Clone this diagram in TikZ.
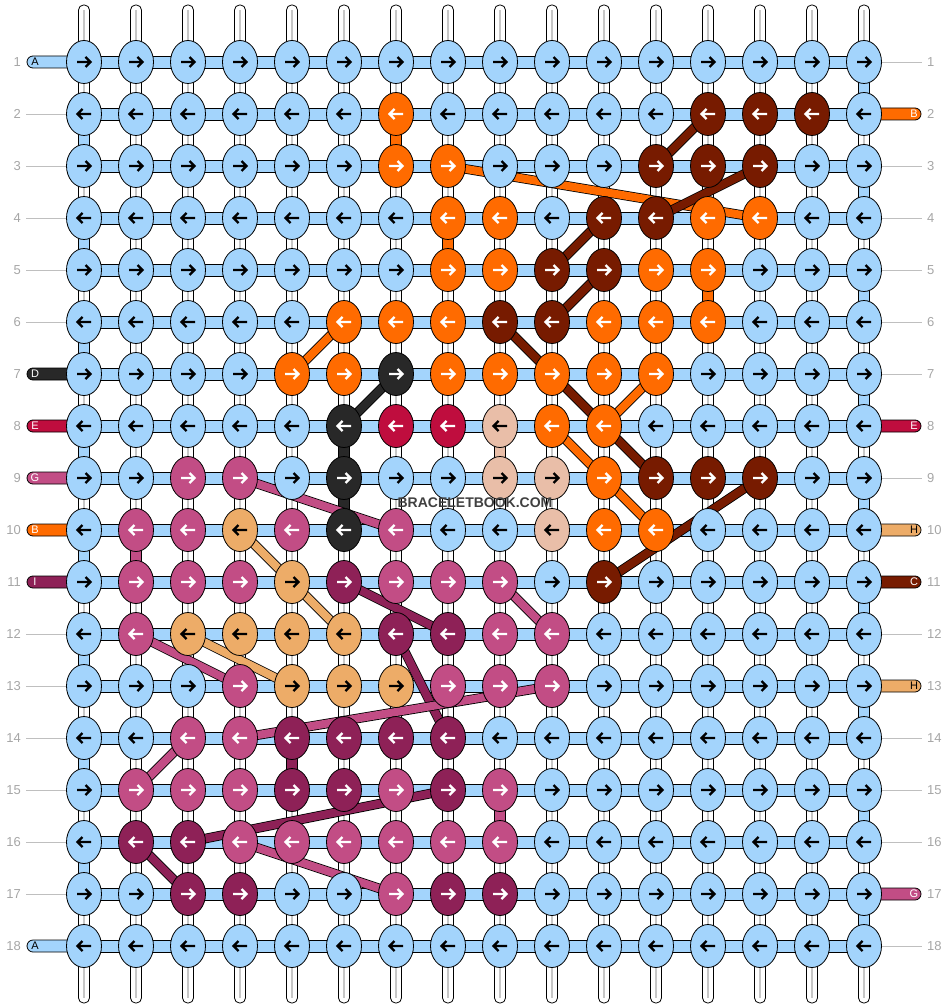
\documentclass[tikz,border=0pt]{standalone}
\usepackage{fontspec}
\setmainfont{Liberation Sans}
\usetikzlibrary{
    arrows.meta,
    positioning,
    calc,
    backgrounds,
    shapes.geometric
}
% Thread colours
\definecolor{kL}{HTML}{A3D4FC}
\definecolor{kO}{HTML}{FF6B00}
\definecolor{kD}{HTML}{771B00}
\definecolor{kK}{HTML}{282828}
\definecolor{kR}{HTML}{BF0D3E}
\definecolor{kP}{HTML}{E9BEA8}
\definecolor{kM}{HTML}{C24D85}
\definecolor{kT}{HTML}{EDAC68}
\definecolor{kW}{HTML}{8E2157}
% Arrow colour on each thread
\colorlet{aL}{black}
\colorlet{aO}{white}
\colorlet{aD}{white}
\colorlet{aK}{white}
\colorlet{aR}{white}
\colorlet{aP}{black}
\colorlet{aM}{white}
\colorlet{aT}{black}
\colorlet{aW}{white}
\tikzset{
    % Strands
    warp/.style={fill=white,draw=black,line width=.8,rounded corners=5},
    warp mid/.style={draw=black!22,line width=1.6},
    weft/.style={fill=kL,draw=black,line width=.8},
    vseg/.style={fill=k#1,draw=black,line width=.8},
    carry/.style={draw=black,double=k#1,double distance=8,line width=.8},
    %
    % Knots
    knot/.style={ellipse,draw=black,line width=.8,fill=k#1,minimum width=35,minimum height=43,inner sep=0pt},
    knot arrow/.style={draw=a#1,line width=2.4},
    %
    % Labels
    row number/.style={text=black!35,font=\fontsize{13}{13}\selectfont,inner sep=0pt},
    row guide/.style={draw=black!25,line width=.8},
    tail/.style={fill=k#1,draw=black,line width=.8,rounded corners=6},
    tail letter/.style={text=a#1,font=\fontsize{11}{11}\selectfont,inner sep=0pt},
}

\begin{document}
\begin{tikzpicture}[x=1pt,y=-1pt]
    \useasboundingbox (0,0) rectangle (948,1008);
    % knots, row by row
    \foreach \row [count=\i] in {%
        {L,L,L,L,L,L,L,L,L,L,L,L,L,L,L,L},%
        {L,L,L,L,L,L,O,L,L,L,L,L,D,D,D,L},%
        {L,L,L,L,L,L,O,O,L,L,L,D,D,D,L,L},%
        {L,L,L,L,L,L,L,O,O,L,D,D,O,O,L,L},%
        {L,L,L,L,L,L,L,O,O,D,D,O,O,L,L,L},%
        {L,L,L,L,L,O,O,O,D,D,O,O,O,L,L,L},%
        {L,L,L,L,O,O,K,O,O,O,O,O,L,L,L,L},%
        {L,L,L,L,L,K,R,R,P,O,O,L,L,L,L,L},%
        {L,L,M,M,L,K,L,L,P,P,O,D,D,D,L,L},%
        {L,M,M,T,M,K,M,L,L,P,O,O,L,L,L,L},%
        {L,M,M,M,T,W,M,M,M,L,D,L,L,L,L,L},%
        {L,M,T,T,T,T,W,W,M,M,L,L,L,L,L,L},%
        {L,L,L,M,T,T,T,M,M,M,L,L,L,L,L,L},%
        {L,L,M,M,W,W,W,W,L,L,L,L,L,L,L,L},%
        {L,M,M,M,W,W,M,W,M,L,L,L,L,L,L,L},%
        {L,W,W,M,M,M,M,M,M,L,L,L,L,L,L,L},%
        {L,L,W,W,L,L,M,W,W,L,L,L,L,L,L,L},%
        {L,L,L,L,L,L,L,L,L,L,L,L,L,L,L,L}%
    }{
        \ifodd\i\relax \def\dir{1}\else \def\dir{-1}\fi
        \foreach \kc [count=\j] in \row {
            \node[knot=\kc] (k\i-\j) at ({84+52*(\j-1)},{62+52*(\i-1)}) {};
            \draw[knot arrow=\kc,shift={(k\i-\j.center)},xscale=\dir] (-7,0) -- (5.5,0) (1.5,-5) -- (6.5,0) -- (1.5,5);
        }
    }
    \begin{scope}[on background layer]
        % warp threads
        \foreach \j in {1,...,16} {
            \draw[warp] ([shift={(-5.5,-57)}]k1-\j.center) rectangle ([shift={(5.5,57)}]k18-\j.center);
            \draw[warp mid] ([yshift=52]k1-\j.center) -- ([yshift=-52]k18-\j.center);
        }
        % weft rows and turns at the edges
        \foreach \i in {1,...,18}
            \draw[weft] ([yshift=6]k\i-1.center) rectangle ([yshift=-6]k\i-16.center);
        \foreach \i [evaluate=\i as \n using int(\i+1)] in {1,3,...,17}
            \draw[vseg=L] ([xshift=-5.5]k\i-16.center) rectangle ([xshift=5.5]k\n-16.center);
        \foreach \i [evaluate=\i as \n using int(\i+1)] in {2,4,...,16}
            \draw[vseg=L] ([xshift=-5.5]k\i-1.center) rectangle ([xshift=5.5]k\n-1.center);
        % coloured threads going straight down
        \foreach \i/\j/\kc [evaluate=\i as \n using int(\i+1)] in {2/7/O,4/8/O,5/13/O,8/6/K,9/6/K,8/9/P,10/2/M,14/5/W,15/9/M}
            \draw[vseg=\kc] ([xshift=-5.5]k\i-\j.center) rectangle ([xshift=5.5]k\n-\j.center);
        % guide lines
        \foreach \i in {2,3,4,5,6,12,13,14,15,16,17}
            \draw[row guide] ([xshift=-58]k\i-1.center) -- (k\i-1.center);
        \foreach \i in {1,3,4,5,6,7,9,12,14,15,16,18}
            \draw[row guide] (k\i-16.center) -- ([xshift=58]k\i-16.center);
        % loose ends
        \foreach \i/\kc/\lab in {1/L/A,7/K/D,8/R/E,9/M/G,10/O/B,11/W/I,18/L/A} {
            \draw[tail=\kc] ([shift={(-57,-6)}]k\i-1.center) rectangle ([shift={(0,6)}]k\i-1.center);
            \node[tail letter=\kc] (tl\i) at ([xshift=-49]k\i-1.center) {\lab};
        }
        \foreach \i/\kc/\lab in {2/O/B,8/R/E,10/T/H,11/D/C,13/T/H,17/M/G} {
            \draw[tail=\kc] ([shift={(0,-6)}]k\i-16.center) rectangle ([shift={(57,6)}]k\i-16.center);
            \node[tail letter=\kc] (tr\i) at ([xshift=50]k\i-16.center) {\lab};
        }
        % threads carried across
        \foreach \a/\b/\kc in {3-8/4-14/O,6-6/7-5/O,7-12/8-11/O,8-10/9-11/O,9-11/10-12/O,
                2-13/3-12/D,3-14/4-12/D,4-11/5-10/D,5-11/6-10/D,6-9/9-12/D,9-14/11-11/D,
                7-7/8-6/K,
                10-4/11-5/T,11-5/12-6/T,12-3/13-5/T,
                11-6/12-8/W,12-7/14-8/W,15-8/16-3/W,16-2/17-3/W,
                9-4/10-7/M,11-9/12-10/M,12-2/13-4/M,13-10/14-4/M,14-3/15-2/M,16-4/17-7/M}
            \draw[carry=\kc] (k\a.center) -- (k\b.center);
    \end{scope}
    % row numbers
    \foreach \i in {1,...,18} {
        \node[row number,anchor=east] (nl\i) at ([xshift=-63]k\i-1.center) {\i};
        \node[row number,anchor=west] (nr\i) at ([xshift=63]k\i-16.center) {\i};
    }
    \node[font=\bfseries\fontsize{14}{14}\selectfont,text=black!75] (mark) at (475,503) {BRACELETBOOK.COM};
\end{tikzpicture}
\end{document}
